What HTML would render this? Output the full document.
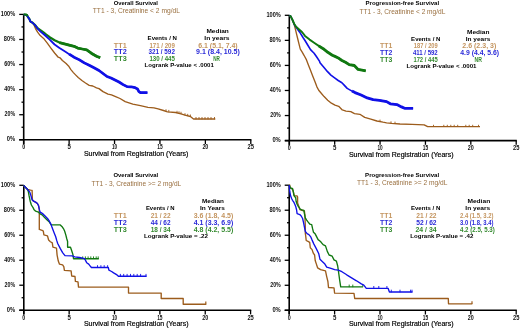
<!DOCTYPE html>
<html><head><meta charset="utf-8"><style>
html,body{margin:0;padding:0;background:#fff;}
body{width:520px;height:329px;overflow:hidden;}
svg{display:block;filter:blur(0.35px);}
text{font-family:"Liberation Sans",sans-serif;}
.yl{font-size:6.4px;font-weight:bold;fill:#111;}
.xl{font-size:6.3px;fill:#111;font-weight:bold;}
.t1{font-size:6.1px;font-weight:bold;fill:#000;}
.t2{font-size:6.4px;fill:#9a7040;font-weight:normal;}
.hd{font-size:6.2px;font-weight:bold;fill:#000;}
.lg{font-size:6.3px;font-weight:bold;}
.lv{font-size:6.3px;font-weight:bold;}
.xt{font-size:6.6px;font-weight:normal;fill:#000;stroke:#000;stroke-width:0.18px;}
</style></head><body>
<svg width="520" height="329" viewBox="0 0 520 329">
<rect width="520" height="329" fill="#fff"/>
<line x1="23.7" y1="14.1" x2="23.7" y2="144.10000000000002" stroke="#000" stroke-width="1.6"/>
<line x1="19.2" y1="139.8" x2="251.4" y2="139.8" stroke="#000" stroke-width="1.6"/>
<line x1="19.2" y1="139.80" x2="23.7" y2="139.80" stroke="#000" stroke-width="1.3"/>
<line x1="21.5" y1="127.26" x2="23.7" y2="127.26" stroke="#000" stroke-width="1.3"/>
<line x1="19.2" y1="114.72" x2="23.7" y2="114.72" stroke="#000" stroke-width="1.3"/>
<line x1="21.5" y1="102.18" x2="23.7" y2="102.18" stroke="#000" stroke-width="1.3"/>
<line x1="19.2" y1="89.64" x2="23.7" y2="89.64" stroke="#000" stroke-width="1.3"/>
<line x1="21.5" y1="77.10" x2="23.7" y2="77.10" stroke="#000" stroke-width="1.3"/>
<line x1="19.2" y1="64.56" x2="23.7" y2="64.56" stroke="#000" stroke-width="1.3"/>
<line x1="21.5" y1="52.02" x2="23.7" y2="52.02" stroke="#000" stroke-width="1.3"/>
<line x1="19.2" y1="39.48" x2="23.7" y2="39.48" stroke="#000" stroke-width="1.3"/>
<line x1="21.5" y1="26.94" x2="23.7" y2="26.94" stroke="#000" stroke-width="1.3"/>
<line x1="19.2" y1="14.40" x2="23.7" y2="14.40" stroke="#000" stroke-width="1.3"/>
<line x1="23.70" y1="139.8" x2="23.70" y2="144.0" stroke="#000" stroke-width="1.3"/>
<line x1="69.12" y1="139.8" x2="69.12" y2="144.0" stroke="#000" stroke-width="1.3"/>
<line x1="114.54" y1="139.8" x2="114.54" y2="144.0" stroke="#000" stroke-width="1.3"/>
<line x1="159.96" y1="139.8" x2="159.96" y2="144.0" stroke="#000" stroke-width="1.3"/>
<line x1="205.38" y1="139.8" x2="205.38" y2="144.0" stroke="#000" stroke-width="1.3"/>
<line x1="250.80" y1="139.8" x2="250.80" y2="144.0" stroke="#000" stroke-width="1.3"/>
<text x="6.80" y="141.45" textLength="8.4" lengthAdjust="spacingAndGlyphs" class="yl">0%</text>
<text x="4.60" y="116.37" textLength="10.6" lengthAdjust="spacingAndGlyphs" class="yl">20%</text>
<text x="4.20" y="91.29" textLength="11.0" lengthAdjust="spacingAndGlyphs" class="yl">40%</text>
<text x="4.20" y="66.21" textLength="11.0" lengthAdjust="spacingAndGlyphs" class="yl">60%</text>
<text x="3.80" y="41.13" textLength="11.4" lengthAdjust="spacingAndGlyphs" class="yl">80%</text>
<text x="0.80" y="16.05" textLength="14.4" lengthAdjust="spacingAndGlyphs" class="yl">100%</text>
<text x="22.20" y="149.20" textLength="3.0" lengthAdjust="spacingAndGlyphs" class="xl">0</text>
<text x="67.42" y="149.20" textLength="3.4" lengthAdjust="spacingAndGlyphs" class="xl">5</text>
<text x="111.94" y="149.20" textLength="5.2" lengthAdjust="spacingAndGlyphs" class="xl">10</text>
<text x="157.26" y="149.20" textLength="5.4" lengthAdjust="spacingAndGlyphs" class="xl">15</text>
<text x="202.38" y="149.20" textLength="6.0" lengthAdjust="spacingAndGlyphs" class="xl">20</text>
<text x="247.60" y="149.20" textLength="6.4" lengthAdjust="spacingAndGlyphs" class="xl">25</text>
<line x1="289.3" y1="15.0" x2="289.3" y2="144.9" stroke="#000" stroke-width="1.6"/>
<line x1="284.8" y1="140.6" x2="516.8000000000001" y2="140.6" stroke="#000" stroke-width="1.6"/>
<line x1="284.8" y1="140.60" x2="289.3" y2="140.60" stroke="#000" stroke-width="1.3"/>
<line x1="287.1" y1="128.07" x2="289.3" y2="128.07" stroke="#000" stroke-width="1.3"/>
<line x1="284.8" y1="115.54" x2="289.3" y2="115.54" stroke="#000" stroke-width="1.3"/>
<line x1="287.1" y1="103.01" x2="289.3" y2="103.01" stroke="#000" stroke-width="1.3"/>
<line x1="284.8" y1="90.48" x2="289.3" y2="90.48" stroke="#000" stroke-width="1.3"/>
<line x1="287.1" y1="77.95" x2="289.3" y2="77.95" stroke="#000" stroke-width="1.3"/>
<line x1="284.8" y1="65.42" x2="289.3" y2="65.42" stroke="#000" stroke-width="1.3"/>
<line x1="287.1" y1="52.89" x2="289.3" y2="52.89" stroke="#000" stroke-width="1.3"/>
<line x1="284.8" y1="40.36" x2="289.3" y2="40.36" stroke="#000" stroke-width="1.3"/>
<line x1="287.1" y1="27.83" x2="289.3" y2="27.83" stroke="#000" stroke-width="1.3"/>
<line x1="284.8" y1="15.30" x2="289.3" y2="15.30" stroke="#000" stroke-width="1.3"/>
<line x1="289.30" y1="140.6" x2="289.30" y2="144.79999999999998" stroke="#000" stroke-width="1.3"/>
<line x1="334.68" y1="140.6" x2="334.68" y2="144.79999999999998" stroke="#000" stroke-width="1.3"/>
<line x1="380.06" y1="140.6" x2="380.06" y2="144.79999999999998" stroke="#000" stroke-width="1.3"/>
<line x1="425.44" y1="140.6" x2="425.44" y2="144.79999999999998" stroke="#000" stroke-width="1.3"/>
<line x1="470.82" y1="140.6" x2="470.82" y2="144.79999999999998" stroke="#000" stroke-width="1.3"/>
<line x1="516.20" y1="140.6" x2="516.20" y2="144.79999999999998" stroke="#000" stroke-width="1.3"/>
<text x="272.40" y="142.25" textLength="8.4" lengthAdjust="spacingAndGlyphs" class="yl">0%</text>
<text x="270.20" y="117.19" textLength="10.6" lengthAdjust="spacingAndGlyphs" class="yl">20%</text>
<text x="269.80" y="92.13" textLength="11.0" lengthAdjust="spacingAndGlyphs" class="yl">40%</text>
<text x="269.80" y="67.07" textLength="11.0" lengthAdjust="spacingAndGlyphs" class="yl">60%</text>
<text x="269.40" y="42.01" textLength="11.4" lengthAdjust="spacingAndGlyphs" class="yl">80%</text>
<text x="266.40" y="16.95" textLength="14.4" lengthAdjust="spacingAndGlyphs" class="yl">100%</text>
<text x="287.80" y="150.00" textLength="3.0" lengthAdjust="spacingAndGlyphs" class="xl">0</text>
<text x="332.98" y="150.00" textLength="3.4" lengthAdjust="spacingAndGlyphs" class="xl">5</text>
<text x="377.46" y="150.00" textLength="5.2" lengthAdjust="spacingAndGlyphs" class="xl">10</text>
<text x="422.74" y="150.00" textLength="5.4" lengthAdjust="spacingAndGlyphs" class="xl">15</text>
<text x="467.82" y="150.00" textLength="6.0" lengthAdjust="spacingAndGlyphs" class="xl">20</text>
<text x="513.00" y="150.00" textLength="6.4" lengthAdjust="spacingAndGlyphs" class="xl">25</text>
<line x1="23.8" y1="185.0" x2="23.8" y2="314.5" stroke="#000" stroke-width="1.6"/>
<line x1="19.3" y1="310.2" x2="251.2" y2="310.2" stroke="#000" stroke-width="1.6"/>
<line x1="19.3" y1="310.20" x2="23.8" y2="310.20" stroke="#000" stroke-width="1.3"/>
<line x1="21.6" y1="297.71" x2="23.8" y2="297.71" stroke="#000" stroke-width="1.3"/>
<line x1="19.3" y1="285.22" x2="23.8" y2="285.22" stroke="#000" stroke-width="1.3"/>
<line x1="21.6" y1="272.73" x2="23.8" y2="272.73" stroke="#000" stroke-width="1.3"/>
<line x1="19.3" y1="260.24" x2="23.8" y2="260.24" stroke="#000" stroke-width="1.3"/>
<line x1="21.6" y1="247.75" x2="23.8" y2="247.75" stroke="#000" stroke-width="1.3"/>
<line x1="19.3" y1="235.26" x2="23.8" y2="235.26" stroke="#000" stroke-width="1.3"/>
<line x1="21.6" y1="222.77" x2="23.8" y2="222.77" stroke="#000" stroke-width="1.3"/>
<line x1="19.3" y1="210.28" x2="23.8" y2="210.28" stroke="#000" stroke-width="1.3"/>
<line x1="21.6" y1="197.79" x2="23.8" y2="197.79" stroke="#000" stroke-width="1.3"/>
<line x1="19.3" y1="185.30" x2="23.8" y2="185.30" stroke="#000" stroke-width="1.3"/>
<line x1="23.80" y1="310.2" x2="23.80" y2="314.4" stroke="#000" stroke-width="1.3"/>
<line x1="69.16" y1="310.2" x2="69.16" y2="314.4" stroke="#000" stroke-width="1.3"/>
<line x1="114.52" y1="310.2" x2="114.52" y2="314.4" stroke="#000" stroke-width="1.3"/>
<line x1="159.88" y1="310.2" x2="159.88" y2="314.4" stroke="#000" stroke-width="1.3"/>
<line x1="205.24" y1="310.2" x2="205.24" y2="314.4" stroke="#000" stroke-width="1.3"/>
<line x1="250.60" y1="310.2" x2="250.60" y2="314.4" stroke="#000" stroke-width="1.3"/>
<text x="6.80" y="311.85" textLength="8.4" lengthAdjust="spacingAndGlyphs" class="yl">0%</text>
<text x="4.60" y="286.87" textLength="10.6" lengthAdjust="spacingAndGlyphs" class="yl">20%</text>
<text x="4.20" y="261.89" textLength="11.0" lengthAdjust="spacingAndGlyphs" class="yl">40%</text>
<text x="4.20" y="236.91" textLength="11.0" lengthAdjust="spacingAndGlyphs" class="yl">60%</text>
<text x="3.80" y="211.93" textLength="11.4" lengthAdjust="spacingAndGlyphs" class="yl">80%</text>
<text x="0.80" y="186.95" textLength="14.4" lengthAdjust="spacingAndGlyphs" class="yl">100%</text>
<text x="22.30" y="319.60" textLength="3.0" lengthAdjust="spacingAndGlyphs" class="xl">0</text>
<text x="67.46" y="319.60" textLength="3.4" lengthAdjust="spacingAndGlyphs" class="xl">5</text>
<text x="111.92" y="319.60" textLength="5.2" lengthAdjust="spacingAndGlyphs" class="xl">10</text>
<text x="157.18" y="319.60" textLength="5.4" lengthAdjust="spacingAndGlyphs" class="xl">15</text>
<text x="202.24" y="319.60" textLength="6.0" lengthAdjust="spacingAndGlyphs" class="xl">20</text>
<text x="247.40" y="319.60" textLength="6.4" lengthAdjust="spacingAndGlyphs" class="xl">25</text>
<line x1="289.2" y1="184.89999999999998" x2="289.2" y2="314.6" stroke="#000" stroke-width="1.6"/>
<line x1="284.7" y1="310.3" x2="516.8000000000001" y2="310.3" stroke="#000" stroke-width="1.6"/>
<line x1="284.7" y1="310.30" x2="289.2" y2="310.30" stroke="#000" stroke-width="1.3"/>
<line x1="287.0" y1="297.79" x2="289.2" y2="297.79" stroke="#000" stroke-width="1.3"/>
<line x1="284.7" y1="285.28" x2="289.2" y2="285.28" stroke="#000" stroke-width="1.3"/>
<line x1="287.0" y1="272.77" x2="289.2" y2="272.77" stroke="#000" stroke-width="1.3"/>
<line x1="284.7" y1="260.26" x2="289.2" y2="260.26" stroke="#000" stroke-width="1.3"/>
<line x1="287.0" y1="247.75" x2="289.2" y2="247.75" stroke="#000" stroke-width="1.3"/>
<line x1="284.7" y1="235.24" x2="289.2" y2="235.24" stroke="#000" stroke-width="1.3"/>
<line x1="287.0" y1="222.73" x2="289.2" y2="222.73" stroke="#000" stroke-width="1.3"/>
<line x1="284.7" y1="210.22" x2="289.2" y2="210.22" stroke="#000" stroke-width="1.3"/>
<line x1="287.0" y1="197.71" x2="289.2" y2="197.71" stroke="#000" stroke-width="1.3"/>
<line x1="284.7" y1="185.20" x2="289.2" y2="185.20" stroke="#000" stroke-width="1.3"/>
<line x1="289.20" y1="310.3" x2="289.20" y2="314.5" stroke="#000" stroke-width="1.3"/>
<line x1="334.60" y1="310.3" x2="334.60" y2="314.5" stroke="#000" stroke-width="1.3"/>
<line x1="380.00" y1="310.3" x2="380.00" y2="314.5" stroke="#000" stroke-width="1.3"/>
<line x1="425.40" y1="310.3" x2="425.40" y2="314.5" stroke="#000" stroke-width="1.3"/>
<line x1="470.80" y1="310.3" x2="470.80" y2="314.5" stroke="#000" stroke-width="1.3"/>
<line x1="516.20" y1="310.3" x2="516.20" y2="314.5" stroke="#000" stroke-width="1.3"/>
<text x="272.40" y="311.95" textLength="8.4" lengthAdjust="spacingAndGlyphs" class="yl">0%</text>
<text x="270.20" y="286.93" textLength="10.6" lengthAdjust="spacingAndGlyphs" class="yl">20%</text>
<text x="269.80" y="261.91" textLength="11.0" lengthAdjust="spacingAndGlyphs" class="yl">40%</text>
<text x="269.80" y="236.89" textLength="11.0" lengthAdjust="spacingAndGlyphs" class="yl">60%</text>
<text x="269.40" y="211.87" textLength="11.4" lengthAdjust="spacingAndGlyphs" class="yl">80%</text>
<text x="266.40" y="186.85" textLength="14.4" lengthAdjust="spacingAndGlyphs" class="yl">100%</text>
<text x="287.70" y="319.70" textLength="3.0" lengthAdjust="spacingAndGlyphs" class="xl">0</text>
<text x="332.90" y="319.70" textLength="3.4" lengthAdjust="spacingAndGlyphs" class="xl">5</text>
<text x="377.40" y="319.70" textLength="5.2" lengthAdjust="spacingAndGlyphs" class="xl">10</text>
<text x="422.70" y="319.70" textLength="5.4" lengthAdjust="spacingAndGlyphs" class="xl">15</text>
<text x="467.80" y="319.70" textLength="6.0" lengthAdjust="spacingAndGlyphs" class="xl">20</text>
<text x="513.00" y="319.70" textLength="6.4" lengthAdjust="spacingAndGlyphs" class="xl">25</text>
<polyline points="23.7,14.6 26.7,14.8 27.8,16.8 29.5,19.2 30.3,21.4 32.6,22.8 34.2,25.5 35.5,28.6 37.6,32.2 40.0,35.3 43.6,38.4 47.3,43.2 50.9,48.1 54.6,53.0 58.2,57.2 60.0,57.8 62.4,60.5 66.1,63.5 68.5,65.9 70.9,69.6 73.4,72.6 75.8,75.1 78.2,77.5 81.9,80.5 85.5,83.0 89.2,85.4 92.8,86.0 96.5,87.8 99.0,88.6 103.0,91.6 108.0,94.1 111.5,94.8 115.6,96.6 120.0,98.5 125.2,101.6 132.8,104.1 140.4,105.6 148.0,107.3 154.0,107.8 158.1,108.8 163.5,110.5 167.5,111.8 175.6,112.5 181.0,113.8 185.0,115.2 190.4,116.5 193.5,119.0 215.3,119.0" fill="none" stroke="#9c5c1c" stroke-width="1.35" stroke-linejoin="round" stroke-linecap="butt"/>
<line x1="196" y1="119.3" x2="196" y2="117.0" stroke="#9c5c1c" stroke-width="0.9"/>
<line x1="199" y1="119.3" x2="199" y2="117.0" stroke="#9c5c1c" stroke-width="0.9"/>
<line x1="202" y1="119.3" x2="202" y2="117.0" stroke="#9c5c1c" stroke-width="0.9"/>
<line x1="205" y1="119.3" x2="205" y2="117.0" stroke="#9c5c1c" stroke-width="0.9"/>
<line x1="208" y1="119.3" x2="208" y2="117.0" stroke="#9c5c1c" stroke-width="0.9"/>
<line x1="211" y1="119.3" x2="211" y2="117.0" stroke="#9c5c1c" stroke-width="0.9"/>
<line x1="214.5" y1="119.3" x2="214.5" y2="117.0" stroke="#9c5c1c" stroke-width="0.9"/>
<line x1="166" y1="111.61" x2="166" y2="109.31" stroke="#9c5c1c" stroke-width="0.9"/>
<line x1="168.8" y1="112.21" x2="168.8" y2="109.91" stroke="#9c5c1c" stroke-width="0.9"/>
<line x1="177" y1="113.14" x2="177" y2="110.84" stroke="#9c5c1c" stroke-width="0.9"/>
<line x1="179" y1="113.62" x2="179" y2="111.32" stroke="#9c5c1c" stroke-width="0.9"/>
<line x1="181" y1="114.10" x2="181" y2="111.80" stroke="#9c5c1c" stroke-width="0.9"/>
<line x1="185" y1="115.50" x2="185" y2="113.20" stroke="#9c5c1c" stroke-width="0.9"/>
<line x1="187.7" y1="116.15" x2="187.7" y2="113.85" stroke="#9c5c1c" stroke-width="0.9"/>
<line x1="190.4" y1="116.80" x2="190.4" y2="114.50" stroke="#9c5c1c" stroke-width="0.9"/>
<polyline points="23.7,14.6 26.7,14.8 27.8,16.8 29.5,19.2 30.3,21.4 32.6,22.8 34.8,24.8 37.6,28.2 40.0,29.9 44.9,33.5 49.7,37.2 54.6,40.2 59.5,42.6 64.3,43.8 69.2,45.1 74.0,46.3 77.7,48.1 82.2,49.0 86.7,49.8 91.3,53.2 94.3,55.0 97.0,56.5 100.2,57.6" fill="none" stroke="#107810" stroke-width="2.2" stroke-linejoin="round" stroke-linecap="butt"/>
<polyline points="59.5,42.6 64.3,43.8 69.2,45.1 74.0,46.3 77.7,48.1 82.2,49.0 86.7,49.8 91.3,53.2 94.3,55.0 97.0,56.5 100.2,57.6" fill="none" stroke="#107810" stroke-width="2.8" stroke-linejoin="round" stroke-linecap="butt"/>
<polyline points="23.7,14.6 26.7,14.8 27.8,16.8 29.5,19.2 30.3,21.4 32.6,22.8 34.8,24.8 37.6,28.6 40.0,31.1 44.9,35.3 49.7,39.6 54.6,44.5 59.5,48.1 64.3,51.1 69.2,54.2 74.0,57.2 79.5,59.9 84.3,62.9 89.2,65.3 94.0,67.8 99.0,70.5 103.0,73.5 107.0,76.5 111.0,78.0 115.0,80.0 119.0,82.0 123.1,84.6 127.1,86.6 131.1,86.8 135.0,87.6 137.5,89.0 138.9,91.6 140.4,92.6 147.4,92.6" fill="none" stroke="#1010e6" stroke-width="1.8" stroke-linejoin="round" stroke-linecap="butt"/>
<polyline points="69.2,54.2 74.0,57.2 79.5,59.9 84.3,62.9 89.2,65.3 94.0,67.8 99.0,70.5 103.0,73.5 107.0,76.5 111.0,78.0 115.0,80.0 119.0,82.0 123.1,84.6 127.1,86.6 131.1,86.8 135.0,87.6 137.5,89.0 138.9,91.6 140.4,92.6 147.4,92.6" fill="none" stroke="#1010e6" stroke-width="2.7" stroke-linejoin="round" stroke-linecap="butt"/>
<polyline points="23.7,14.5 26.7,14.7 27.6,16.2" fill="none" stroke="#107810" stroke-width="1.8" stroke-linejoin="round" stroke-linecap="butt"/>
<polyline points="289.3,15.5 290.6,16.1 292.3,19.5 294.3,24.9 295.5,29.7 296.7,34.6 297.9,39.5 299.1,44.3 300.3,49.2 302.2,52.2 304.0,55.3 306.5,59.9 308.3,64.7 310.2,69.6 312.6,75.7 315.0,81.7 316.8,86.6 318.7,90.3 320.4,92.3 324.1,96.6 327.7,100.2 331.4,103.2 335.0,105.1 338.7,106.3 342.3,109.9 346.0,111.1 350.8,111.7 354.5,113.6 359.9,114.3 364.7,117.4 370.8,119.2 376.9,121.0 383.0,122.2 386.6,122.8 391.5,123.4 400.0,124.0 412.1,124.4 424.2,124.9 427.7,126.6 480.0,126.6" fill="none" stroke="#9c5c1c" stroke-width="1.35" stroke-linejoin="round" stroke-linecap="butt"/>
<line x1="433.5" y1="126.89999999999999" x2="433.5" y2="124.8" stroke="#9c5c1c" stroke-width="0.9"/>
<line x1="443.8" y1="126.89999999999999" x2="443.8" y2="124.8" stroke="#9c5c1c" stroke-width="0.9"/>
<line x1="447.3" y1="126.89999999999999" x2="447.3" y2="124.8" stroke="#9c5c1c" stroke-width="0.9"/>
<line x1="450.8" y1="126.89999999999999" x2="450.8" y2="124.8" stroke="#9c5c1c" stroke-width="0.9"/>
<line x1="454.2" y1="126.89999999999999" x2="454.2" y2="124.8" stroke="#9c5c1c" stroke-width="0.9"/>
<line x1="457.7" y1="126.89999999999999" x2="457.7" y2="124.8" stroke="#9c5c1c" stroke-width="0.9"/>
<line x1="465.8" y1="126.89999999999999" x2="465.8" y2="124.8" stroke="#9c5c1c" stroke-width="0.9"/>
<line x1="469.2" y1="126.89999999999999" x2="469.2" y2="124.8" stroke="#9c5c1c" stroke-width="0.9"/>
<line x1="472.7" y1="126.89999999999999" x2="472.7" y2="124.8" stroke="#9c5c1c" stroke-width="0.9"/>
<line x1="478.5" y1="126.89999999999999" x2="478.5" y2="124.8" stroke="#9c5c1c" stroke-width="0.9"/>
<line x1="380" y1="121.91" x2="380" y2="119.61" stroke="#9c5c1c" stroke-width="0.9"/>
<line x1="391" y1="123.64" x2="391" y2="121.34" stroke="#9c5c1c" stroke-width="0.9"/>
<line x1="395" y1="123.95" x2="395" y2="121.65" stroke="#9c5c1c" stroke-width="0.9"/>
<polyline points="289.3,15.5 290.6,16.1 292.3,19.5 294.3,24.5 296.1,27.3 299.7,32.2 303.0,37.5 305.0,40.5 307.7,45.0 310.5,49.6 314.1,53.2 316.9,57.3 319.6,61.4 320.0,62.7 323.6,66.9 327.3,71.4 330.9,75.1 334.6,77.8 338.2,80.5 341.9,82.8 343.7,84.6 347.2,88.4 352.0,91.1 355.0,92.6 361.1,95.0 367.2,97.9 373.2,99.7 379.3,100.3 386.6,101.6 390.3,103.8 396.9,104.6 401.5,106.9 404.6,108.3 413.1,108.3" fill="none" stroke="#1010e6" stroke-width="1.6" stroke-linejoin="round" stroke-linecap="butt"/>
<polyline points="352.0,91.1 355.0,92.6 361.1,95.0 367.2,97.9 373.2,99.7 379.3,100.3 386.6,101.6 390.3,103.8 396.9,104.6 401.5,106.9 404.6,108.3 413.1,108.3" fill="none" stroke="#1010e6" stroke-width="2.8" stroke-linejoin="round" stroke-linecap="butt"/>
<polyline points="289.3,15.5 290.6,16.1 292.3,19.5 294.3,24.0 296.1,26.7 302.2,32.2 305.0,35.9 309.6,39.6 314.1,42.7 318.7,45.9 323.2,48.7 327.8,52.3 332.3,55.2 335.0,56.4 338.2,57.9 341.9,60.5 345.5,62.3 349.2,64.6 354.3,65.5 358.1,69.4 365.7,70.8" fill="none" stroke="#107810" stroke-width="1.9" stroke-linejoin="round" stroke-linecap="butt"/>
<polyline points="318.7,45.9 323.2,48.7 327.8,52.3 332.3,55.2 335.0,56.4 338.2,57.9 341.9,60.5 345.5,62.3 349.2,64.6 354.3,65.5 358.1,69.4 365.7,70.8" fill="none" stroke="#107810" stroke-width="2.8" stroke-linejoin="round" stroke-linecap="butt"/>
<polyline points="23.8,185.3 24.1,186.0 27.6,189.5 30.6,190.1 32.1,190.3 32.4,199.8 33.6,201.2 35.9,202.4 37.4,203.5 38.6,205.8 39.3,209.4 39.3,229.4 42.1,230.3 43.3,231.1 43.9,234.9 47.5,235.8 48.6,240.0 50.4,241.7 52.3,242.9 52.9,247.2 56.5,248.2 57.1,255.1 58.3,261.1 59.5,264.2 62.6,264.8 63.8,266.6 64.4,270.3 71.1,270.9 71.7,276.0 75.0,276.5 75.4,281.4 78.0,281.9 78.5,287.1 128.5,287.1 128.5,293.1 161.2,293.1 161.2,298.5 183.2,298.5 183.2,304.2 206.2,304.2" fill="none" stroke="#9c5c1c" stroke-width="1.35" stroke-linejoin="round" stroke-linecap="butt"/>
<line x1="205.8" y1="304.5" x2="205.8" y2="301.59999999999997" stroke="#9c5c1c" stroke-width="1.2"/>
<polyline points="23.8,185.3 24.1,186.0 27.6,189.5 28.3,191.4 29.1,195.9 30.2,201.2 31.4,205.0 32.9,207.3 33.9,209.4 35.7,211.2 38.4,212.1 40.2,213.9 42.1,214.8 43.9,216.7 46.6,219.4 49.4,222.1 51.2,224.9 60.3,224.9 62.1,226.7 63.9,229.4 64.6,231.0 65.8,234.9 66.7,238.5 67.6,241.5 67.6,247.2 70.5,247.2 71.7,250.8 72.9,254.5 73.5,258.7 98.8,258.7" fill="none" stroke="#107810" stroke-width="1.35" stroke-linejoin="round" stroke-linecap="butt"/>
<line x1="82.7" y1="259.0" x2="82.7" y2="256.4" stroke="#107810" stroke-width="0.9"/>
<line x1="85.4" y1="259.0" x2="85.4" y2="256.4" stroke="#107810" stroke-width="0.9"/>
<line x1="88.1" y1="259.0" x2="88.1" y2="256.4" stroke="#107810" stroke-width="0.9"/>
<line x1="90.8" y1="259.0" x2="90.8" y2="256.4" stroke="#107810" stroke-width="0.9"/>
<line x1="93.5" y1="259.0" x2="93.5" y2="256.4" stroke="#107810" stroke-width="0.9"/>
<line x1="96.2" y1="259.0" x2="96.2" y2="256.4" stroke="#107810" stroke-width="0.9"/>
<line x1="98.2" y1="259.0" x2="98.2" y2="256.4" stroke="#107810" stroke-width="0.9"/>
<polyline points="23.8,185.3 24.1,186.0 27.6,189.5 29.8,192.1 31.0,195.9 32.1,199.7 33.6,201.2 35.9,202.4 37.4,203.5 38.6,205.8 39.3,209.4 40.2,212.1 43.0,213.9 44.8,215.7 47.5,218.5 49.4,221.2 51.2,224.9 52.1,227.6 53.9,232.2 55.7,236.7 56.7,240.4 57.7,243.5 60.2,248.4 62.6,252.6 65.0,255.7 72.3,255.9 74.7,256.9 79.6,257.5 84.5,258.7 85.4,260.1 86.7,262.8 88.7,264.1 90.8,266.8 91.4,267.5 108.3,267.5 108.9,270.2 111.6,271.5 113.6,272.9 117.0,274.9 118.4,276.2 146.6,276.2" fill="none" stroke="#1010e6" stroke-width="1.35" stroke-linejoin="round" stroke-linecap="butt"/>
<line x1="97.5" y1="267.8" x2="97.5" y2="265.2" stroke="#1010e6" stroke-width="0.9"/>
<line x1="100.9" y1="267.8" x2="100.9" y2="265.2" stroke="#1010e6" stroke-width="0.9"/>
<line x1="104.2" y1="267.8" x2="104.2" y2="265.2" stroke="#1010e6" stroke-width="0.9"/>
<line x1="107.6" y1="267.8" x2="107.6" y2="265.2" stroke="#1010e6" stroke-width="0.9"/>
<line x1="120.4" y1="276.5" x2="120.4" y2="273.9" stroke="#1010e6" stroke-width="0.9"/>
<line x1="123.7" y1="276.5" x2="123.7" y2="273.9" stroke="#1010e6" stroke-width="0.9"/>
<line x1="127.1" y1="276.5" x2="127.1" y2="273.9" stroke="#1010e6" stroke-width="0.9"/>
<line x1="130.5" y1="276.5" x2="130.5" y2="273.9" stroke="#1010e6" stroke-width="0.9"/>
<line x1="133.8" y1="276.5" x2="133.8" y2="273.9" stroke="#1010e6" stroke-width="0.9"/>
<line x1="137.2" y1="276.5" x2="137.2" y2="273.9" stroke="#1010e6" stroke-width="0.9"/>
<line x1="140.6" y1="276.5" x2="140.6" y2="273.9" stroke="#1010e6" stroke-width="0.9"/>
<line x1="146" y1="276.5" x2="146" y2="273.9" stroke="#1010e6" stroke-width="0.9"/>
<polyline points="289.2,185.2 289.7,185.0 290.2,188.0 292.5,188.9 293.4,192.1 294.3,195.8 297.0,195.8 297.6,197.0 297.6,203.0 298.5,205.5 299.8,209.5 304.4,211.0 304.9,215.0 305.3,226.0 305.3,233.2 305.7,236.0 306.2,240.5 308.0,241.4 309.7,242.3 310.3,247.7 312.1,249.6 313.3,253.2 314.6,255.0 315.2,260.5 316.4,264.1 317.6,267.8 320.6,269.6 325.5,270.8 326.7,276.6 327.9,281.5 328.5,287.5 334.0,287.8 334.6,293.2 354.0,293.4 354.7,298.5 448.3,298.5 448.5,303.8 472.3,303.8" fill="none" stroke="#9c5c1c" stroke-width="1.35" stroke-linejoin="round" stroke-linecap="butt"/>
<line x1="472" y1="304.1" x2="472" y2="301.2" stroke="#9c5c1c" stroke-width="1.2"/>
<polyline points="289.2,185.0 290.2,187.1 291.1,188.5 292.5,188.5 292.9,190.3 293.4,192.1 293.8,194.9 294.7,196.7 295.7,197.6 296.1,201.2 297.0,204.0 297.9,205.8 299.3,207.6 300.2,209.0 301.6,209.9 303.9,210.3 304.4,213.7 305.3,217.8 306.7,220.1 308.0,221.9 309.9,224.2 311.7,224.6 312.6,228.7 313.5,232.3 315.3,234.1 316.7,236.9 318.1,239.6 319.9,241.0 321.2,242.3 323.1,244.7 325.5,245.9 327.3,251.4 329.1,255.0 332.2,256.2 334.0,259.9 336.4,261.1 337.7,266.0 338.3,270.2 338.9,274.5 339.5,279.0 340.7,286.9 362.8,286.9" fill="none" stroke="#107810" stroke-width="1.35" stroke-linejoin="round" stroke-linecap="butt"/>
<line x1="349.2" y1="287.2" x2="349.2" y2="284.59999999999997" stroke="#107810" stroke-width="0.9"/>
<line x1="352.8" y1="287.2" x2="352.8" y2="284.59999999999997" stroke="#107810" stroke-width="0.9"/>
<line x1="362.8" y1="287.2" x2="362.8" y2="284.59999999999997" stroke="#107810" stroke-width="0.9"/>
<polyline points="289.2,185.0 289.7,191.2 290.6,195.8 291.6,198.5 292.5,200.3 293.8,202.1 294.7,204.0 295.7,206.4 296.6,210.0 297.1,213.7 299.8,214.6 301.2,216.0 302.6,218.5 303.5,222.3 304.4,226.9 305.3,231.4 307.1,233.7 308.9,234.6 310.8,236.9 312.1,240.1 313.9,244.1 316.4,248.9 318.8,253.8 320.0,259.3 322.5,261.7 324.9,264.1 326.7,267.2 331.0,268.4 334.6,269.6 338.3,270.2 341.9,271.7 346.7,274.8 351.6,277.8 356.5,280.8 361.3,283.9 363.8,285.1 366.3,288.3 388.1,288.3 389.4,292.0 412.5,292.0" fill="none" stroke="#1010e6" stroke-width="1.35" stroke-linejoin="round" stroke-linecap="butt"/>
<line x1="373.8" y1="288.6" x2="373.8" y2="286.0" stroke="#1010e6" stroke-width="0.9"/>
<line x1="378.8" y1="288.6" x2="378.8" y2="286.0" stroke="#1010e6" stroke-width="0.9"/>
<line x1="386.9" y1="288.6" x2="386.9" y2="286.0" stroke="#1010e6" stroke-width="0.9"/>
<line x1="391.3" y1="292.3" x2="391.3" y2="289.7" stroke="#1010e6" stroke-width="0.9"/>
<line x1="400" y1="292.3" x2="400" y2="289.7" stroke="#1010e6" stroke-width="0.9"/>
<line x1="410.6" y1="292.3" x2="410.6" y2="289.7" stroke="#1010e6" stroke-width="0.9"/>
<line x1="412" y1="292.3" x2="412" y2="289.7" stroke="#1010e6" stroke-width="0.9"/>
<text x="113.70" y="5.00" textLength="44.30" lengthAdjust="spacingAndGlyphs" class="t1">Overall Survival</text>
<text x="92.80" y="13.10" textLength="87.10" lengthAdjust="spacingAndGlyphs" class="t2">TT1 - 3, Creatinine &lt; 2 mg/dL</text>
<text x="206.40" y="33.20" textLength="22.40" lengthAdjust="spacingAndGlyphs" class="hd">Median</text>
<text x="204.30" y="40.10" textLength="25.20" lengthAdjust="spacingAndGlyphs" class="hd">In years</text>
<text x="147.60" y="40.10" textLength="29.30" lengthAdjust="spacingAndGlyphs" class="hd">Events / N</text>
<text x="113.80" y="47.90" textLength="12.90" lengthAdjust="spacingAndGlyphs" class="lg" fill="#c4955f">TT1</text>
<text x="113.80" y="54.00" textLength="12.90" lengthAdjust="spacingAndGlyphs" class="lg" fill="#2a2ad8">TT2</text>
<text x="113.80" y="61.00" textLength="12.90" lengthAdjust="spacingAndGlyphs" class="lg" fill="#358a30">TT3</text>
<text x="149.40" y="47.90" textLength="25.50" lengthAdjust="spacingAndGlyphs" class="lv" fill="#c4955f">171 / 209</text>
<text x="148.50" y="54.00" textLength="26.40" lengthAdjust="spacingAndGlyphs" class="lv" fill="#2a2ad8">321 / 592</text>
<text x="149.40" y="61.00" textLength="25.50" lengthAdjust="spacingAndGlyphs" class="lv" fill="#358a30">130 / 445</text>
<text x="198.20" y="47.90" textLength="39.50" lengthAdjust="spacingAndGlyphs" class="lv" fill="#c4955f">6.1 (5.1, 7.4)</text>
<text x="196.10" y="54.00" textLength="43.70" lengthAdjust="spacingAndGlyphs" class="lv" fill="#2a2ad8">9.1 (8.4, 10.5)</text>
<text x="213.20" y="61.00" textLength="6.70" lengthAdjust="spacingAndGlyphs" class="lg" fill="#358a30">NR</text>
<text x="144.60" y="67.10" textLength="69.20" lengthAdjust="spacingAndGlyphs" class="hd">Logrank P-value &lt; .0001</text>
<text x="83.90" y="156.00" textLength="104.40" lengthAdjust="spacingAndGlyphs" class="xt">Survival from Registration <tspan style="font-weight:normal">(Years)</tspan></text>
<text x="365.50" y="5.00" textLength="73.60" lengthAdjust="spacingAndGlyphs" class="t1">Progression-free Survival</text>
<text x="359.40" y="13.50" textLength="86.00" lengthAdjust="spacingAndGlyphs" class="t2">TT1 - 3, Creatinine &lt; 2 mg/dL</text>
<text x="467.00" y="33.70" textLength="22.50" lengthAdjust="spacingAndGlyphs" class="hd">Median</text>
<text x="465.70" y="41.00" textLength="24.60" lengthAdjust="spacingAndGlyphs" class="hd">In years</text>
<text x="411.10" y="41.00" textLength="29.30" lengthAdjust="spacingAndGlyphs" class="hd">Events / N</text>
<text x="380.00" y="48.30" textLength="12.20" lengthAdjust="spacingAndGlyphs" class="lg" fill="#c4955f">TT1</text>
<text x="380.00" y="54.80" textLength="12.20" lengthAdjust="spacingAndGlyphs" class="lg" fill="#2a2ad8">TT2</text>
<text x="380.00" y="61.70" textLength="12.20" lengthAdjust="spacingAndGlyphs" class="lg" fill="#358a30">TT3</text>
<text x="413.80" y="48.30" textLength="23.90" lengthAdjust="spacingAndGlyphs" class="lv" fill="#c4955f">187 / 209</text>
<text x="412.90" y="54.80" textLength="24.80" lengthAdjust="spacingAndGlyphs" class="lv" fill="#2a2ad8">411 / 592</text>
<text x="413.40" y="61.70" textLength="24.30" lengthAdjust="spacingAndGlyphs" class="lv" fill="#358a30">172 / 445</text>
<text x="462.30" y="48.30" textLength="34.00" lengthAdjust="spacingAndGlyphs" class="lv" fill="#c4955f">2.6 (2.3, 3)</text>
<text x="460.20" y="54.80" textLength="38.90" lengthAdjust="spacingAndGlyphs" class="lv" fill="#2a2ad8">4.9 (4.4, 5.6)</text>
<text x="474.60" y="61.70" textLength="7.40" lengthAdjust="spacingAndGlyphs" class="lg" fill="#358a30">NR</text>
<text x="406.60" y="68.30" textLength="69.90" lengthAdjust="spacingAndGlyphs" class="hd">Logrank P-value &lt; .0001</text>
<text x="348.90" y="157.40" textLength="104.60" lengthAdjust="spacingAndGlyphs" class="xt">Survival from Registration <tspan style="font-weight:normal">(Years)</tspan></text>
<text x="113.50" y="176.90" textLength="44.60" lengthAdjust="spacingAndGlyphs" class="t1">Overall Survival</text>
<text x="91.40" y="185.70" textLength="89.80" lengthAdjust="spacingAndGlyphs" class="t2">TT1 - 3, Creatinine &gt;= 2 mg/dL</text>
<text x="202.10" y="203.00" textLength="21.80" lengthAdjust="spacingAndGlyphs" class="hd">Median</text>
<text x="200.00" y="210.10" textLength="24.90" lengthAdjust="spacingAndGlyphs" class="hd">In Years</text>
<text x="145.90" y="210.10" textLength="28.70" lengthAdjust="spacingAndGlyphs" class="hd">Events / N</text>
<text x="113.80" y="218.10" textLength="12.90" lengthAdjust="spacingAndGlyphs" class="lg" fill="#c4955f">TT1</text>
<text x="113.80" y="224.80" textLength="12.90" lengthAdjust="spacingAndGlyphs" class="lg" fill="#2a2ad8">TT2</text>
<text x="113.80" y="231.90" textLength="12.90" lengthAdjust="spacingAndGlyphs" class="lg" fill="#358a30">TT3</text>
<text x="150.70" y="218.10" textLength="19.80" lengthAdjust="spacingAndGlyphs" class="lv" fill="#c4955f">21 / 22</text>
<text x="150.70" y="224.80" textLength="19.80" lengthAdjust="spacingAndGlyphs" class="lv" fill="#2a2ad8">44 / 62</text>
<text x="150.70" y="231.90" textLength="19.80" lengthAdjust="spacingAndGlyphs" class="lv" fill="#358a30">18 / 34</text>
<text x="193.70" y="218.10" textLength="39.60" lengthAdjust="spacingAndGlyphs" class="lv" fill="#c4955f">3.6 (1.8, 4.5)</text>
<text x="193.70" y="224.80" textLength="39.60" lengthAdjust="spacingAndGlyphs" class="lv" fill="#2a2ad8">4.1 (3.3, 6.9)</text>
<text x="193.70" y="231.90" textLength="39.60" lengthAdjust="spacingAndGlyphs" class="lv" fill="#358a30">4.8 (4.2, 5.5)</text>
<text x="143.90" y="237.50" textLength="64.10" lengthAdjust="spacingAndGlyphs" class="hd">Logrank P-value = .22</text>
<text x="83.90" y="325.80" textLength="104.60" lengthAdjust="spacingAndGlyphs" class="xt">Survival from Registration <tspan style="font-weight:normal">(Years)</tspan></text>
<text x="365.10" y="176.70" textLength="74.10" lengthAdjust="spacingAndGlyphs" class="t1">Progression-free Survival</text>
<text x="356.90" y="185.40" textLength="90.50" lengthAdjust="spacingAndGlyphs" class="t2">TT1 - 3, Creatinine &gt;= 2 mg/dL</text>
<text x="467.40" y="203.00" textLength="22.80" lengthAdjust="spacingAndGlyphs" class="hd">Median</text>
<text x="465.30" y="210.30" textLength="24.90" lengthAdjust="spacingAndGlyphs" class="hd">In years</text>
<text x="410.90" y="210.30" textLength="29.40" lengthAdjust="spacingAndGlyphs" class="hd">Events / N</text>
<text x="380.00" y="218.30" textLength="12.20" lengthAdjust="spacingAndGlyphs" class="lg" fill="#c4955f">TT1</text>
<text x="380.00" y="224.60" textLength="12.20" lengthAdjust="spacingAndGlyphs" class="lg" fill="#2a2ad8">TT2</text>
<text x="380.00" y="232.00" textLength="12.20" lengthAdjust="spacingAndGlyphs" class="lg" fill="#358a30">TT3</text>
<text x="416.20" y="218.30" textLength="20.40" lengthAdjust="spacingAndGlyphs" class="lv" fill="#c4955f">21 / 22</text>
<text x="416.20" y="224.60" textLength="20.40" lengthAdjust="spacingAndGlyphs" class="lv" fill="#2a2ad8">52 / 62</text>
<text x="415.50" y="232.00" textLength="21.10" lengthAdjust="spacingAndGlyphs" class="lv" fill="#358a30">24 / 34</text>
<text x="460.00" y="218.30" textLength="33.40" lengthAdjust="spacingAndGlyphs" class="lv" fill="#c4955f">2.4 (1.5, 3.2)</text>
<text x="460.00" y="224.60" textLength="33.40" lengthAdjust="spacingAndGlyphs" class="lv" fill="#2a2ad8">3.0 (1.8, 3.4)</text>
<text x="460.00" y="232.00" textLength="34.80" lengthAdjust="spacingAndGlyphs" class="lv" fill="#358a30">4.2 (2.5, 5.3)</text>
<text x="410.30" y="237.70" textLength="63.00" lengthAdjust="spacingAndGlyphs" class="hd">Logrank P-value = .42</text>
<text x="348.90" y="325.90" textLength="104.60" lengthAdjust="spacingAndGlyphs" class="xt">Survival from Registration <tspan style="font-weight:normal">(Years)</tspan></text>
</svg>
</body></html>
